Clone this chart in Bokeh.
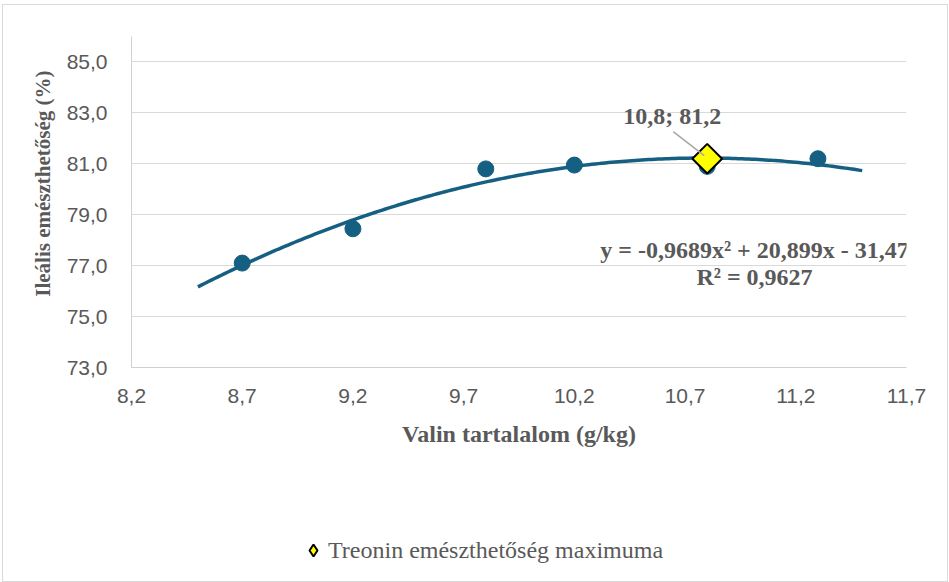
import numpy as np
from bokeh.plotting import figure
from bokeh.layouts import column
from bokeh.models import (Range1d, FixedTicker, CustomJSTickFormatter, Label,
                          Legend, LegendItem, ColumnDataSource)
from bokeh.embed import file_html
from bokeh.resources import INLINE

# ---- data ----
valin = [8.7, 9.2, 9.8, 10.2, 10.8, 11.3]
emesztheto = [77.1, 78.45, 80.8, 80.95, 80.9, 81.2]
max_x = [10.8]
max_y = [81.2]
trend_coef = [-0.9689, 20.899, -31.47]   # y = a x^2 + b x + c
trend_from, trend_to = 8.5, 11.5
r2 = 0.9627
x_ticks = [8.2, 8.7, 9.2, 9.7, 10.2, 10.7, 11.2, 11.7]
x_tick_labels = ["8,2", "8,7", "9,2", "9,7", "10,2", "10,7", "11,2", "11,7"]
y_ticks = [73, 75, 77, 79, 81, 83, 85]
y_tick_labels = ["73,0", "75,0", "77,0", "79,0", "81,0", "83,0", "85,0"]
legend_label = "Treonin emészthetőség maximuma"

BLUE = "#156082"
GRAY = "#595959"
SERIF = "Liberation Serif"
SANS = "Liberation Sans"

W, H1, H2 = 944, 460, 116
BL, BR, BT = 128, 41, 31
FH = 331
BB = H1 - BT - FH
x0, x1, y0, y1 = 8.2, 11.7, 73.0, 86.0
pxx = (W - BL - BR) / (x1 - x0)
pxy = FH / (y1 - y0)

p = figure(width=W, height=H1, output_backend="svg", toolbar_location=None,
           x_range=Range1d(x0, x1), y_range=Range1d(y0, y1),
           min_border_left=BL, min_border_right=BR,
           min_border_top=BT, min_border_bottom=BB)
p.outline_line_color = None
p.background_fill_color = "white"
p.border_fill_color = "white"

p.xgrid.visible = False
p.ygrid.ticker = FixedTicker(ticks=y_ticks)
p.ygrid.grid_line_color = "#d9d9d9"
p.ygrid.grid_line_width = 1

fmt_code = """
const i = vals.findIndex(v => Math.abs(v - tick) < 1e-6);
return i >= 0 ? labs[i] : '';
"""
p.xaxis.ticker = FixedTicker(ticks=x_ticks)
p.xaxis.formatter = CustomJSTickFormatter(args=dict(vals=x_ticks, labs=x_tick_labels), code=fmt_code)
p.yaxis.ticker = FixedTicker(ticks=y_ticks)
p.yaxis.formatter = CustomJSTickFormatter(args=dict(vals=y_ticks, labs=y_tick_labels), code=fmt_code)

for ax in (p.xaxis, p.yaxis):
    ax.axis_line_color = "#d0d0d0"
    ax.axis_line_width = 1
    ax.major_tick_line_color = None
    ax.minor_tick_line_color = None
    ax.major_label_text_font = SANS
    ax.major_label_text_font_size = "21px"
    ax.major_label_text_color = GRAY
    ax.axis_label_text_font = SERIF
    ax.axis_label_text_font_style = "bold"
    ax.axis_label_text_color = GRAY

p.xaxis.axis_label = "Valin tartalalom (g/kg)"
p.xaxis.axis_label_text_font_size = "24px"
p.xaxis.major_label_standoff = 15
p.xaxis.axis_label_standoff = 15
# leading no-break spaces lift the title a little above the frame centre, as in the original
p.yaxis.axis_label = "\u00a0" * 7 + "Ileális emészthetőség (%)"
p.yaxis.axis_label_text_font_size = "21px"
p.yaxis.major_label_standoff = 18
p.yaxis.axis_label_standoff = 9

# trend line
tx = np.linspace(trend_from, trend_to, 200)
ty = np.polyval(trend_coef, tx)
p.line(tx, ty, line_color=BLUE, line_width=3.5)

# data points
src = ColumnDataSource(dict(x=valin, y=emesztheto))
p.scatter("x", "y", source=src, size=16, fill_color=BLUE, line_color=BLUE)

# maximum diamond
msrc = ColumnDataSource(dict(x=max_x, y=max_y))
p.scatter("x", "y", source=msrc, marker="square", angle=np.pi / 4, size=21,
          fill_color="#ffff00", line_color="black", line_width=2)

# leader line
lx0 = max_x[0] - 3 / pxx
ly0 = max_y[0] + 3 / pxy
lx1 = max_x[0] - 34 / pxx
ly1 = max_y[0] + 27 / pxy
p.segment(x0=[lx0], y0=[ly0], x1=[lx1], y1=[ly1], line_color="#a6a6a6", line_width=1.5)

def fmt(v):
    return f"{v:g}".replace(".", ",")

p.add_layout(Label(x=max_x[0], y=max_y[0], x_offset=-35, y_offset=43,
                   text=f"{fmt(max_x[0])}; {fmt(max_y[0])}",
                   text_align="center", text_baseline="middle",
                   text_font=SERIF, text_font_style="bold",
                   text_font_size="24px", text_color=GRAY))

a, b, c = trend_coef
eq = f"y = {fmt(a)}x² + {fmt(b)}x - {fmt(abs(c))}"
eq_x = x0 + (754 - 131) / pxx
p.add_layout(Label(x=eq_x, y=y1 - (249 - 36) / pxy, text=eq,
                   text_align="center", text_baseline="middle",
                   text_font=SERIF, text_font_style="bold",
                   text_font_size="24px", text_color=GRAY))
p.add_layout(Label(x=eq_x, y=y1 - (276 - 36) / pxy, text=f"R² = {fmt(r2)}",
                   text_align="center", text_baseline="middle",
                   text_font=SERIF, text_font_style="bold",
                   text_font_size="24px", text_color=GRAY))

# ---- legend strip (second figure, frame aligned with the chart frame) ----
q = figure(width=W, height=H2, output_backend="svg", toolbar_location=None,
           x_range=p.x_range, y_range=Range1d(0, 1),
           x_axis_location=None, y_axis_location=None,
           min_border_left=0, min_border_right=0, min_border_top=0, min_border_bottom=0)
q.outline_line_color = None
q.grid.visible = False
q.background_fill_color = "white"
q.border_fill_color = "white"
# same maximum point; it lies outside this strip's range, so only the legend key shows
leg_r = q.scatter("x", "y", source=msrc, marker="diamond", size=21,
                  fill_color="#ffff00", line_color="black", line_width=2)

legend = Legend(items=[LegendItem(label=legend_label, renderers=[leg_r], index=0)],
                location=(167, 12))
legend.padding = 0
legend.margin = 0
legend.border_line_color = None
legend.background_fill_alpha = 0
legend.glyph_width = 30
legend.glyph_height = 38
legend.label_standoff = 0
legend.label_text_font = SERIF
legend.label_text_font_size = "24px"
legend.label_text_color = GRAY
q.add_layout(legend, "center")

layout = column(p, q, spacing=0)
layout.styles = {"border": "1px solid #d9d9d9", "margin": "4px 0px 0px 2px"}

open("out.html", "w").write(file_html(layout, INLINE))
